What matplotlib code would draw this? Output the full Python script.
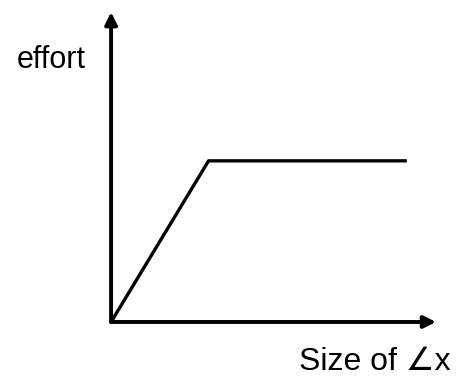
import matplotlib
matplotlib.use('Agg')
import matplotlib.pyplot as plt

# sketch of effort vs size of angle x
size_x = [0.0, 3.0, 9.1]
effort = [0.0, 5.2, 5.2]

x_label = "Size of \u2220x"
y_label = "effort"

plt.rcParams['font.family'] = ['Liberation Sans', 'DejaVu Sans']

fig = plt.figure(figsize=(4.59, 3.84), dpi=100)
ax = fig.add_axes([0.242, 0.1615, 0.708, 0.807])
ax.set_xlim(0, 10)
ax.set_ylim(0, 10)
ax.set_axis_off()

ax.plot(size_x, effort, color='black', lw=2.4, solid_capstyle='butt')

# axes with arrows
arrow = dict(arrowstyle='-|>', mutation_scale=18, lw=2.8, color='black',
             shrinkA=0, shrinkB=0)
ax.annotate('', xy=(10, 0), xytext=(0, 0), arrowprops=arrow)
ax.annotate('', xy=(0, 10), xytext=(0, 0), arrowprops=arrow)

fig.text(17 / 459, 1 - 60 / 384, y_label, fontsize=22, va='center', ha='left')
fig.text(451 / 459, 1 - 362 / 384, x_label, fontsize=23, va='center', ha='right')

plt.savefig('out.png', dpi=100)
